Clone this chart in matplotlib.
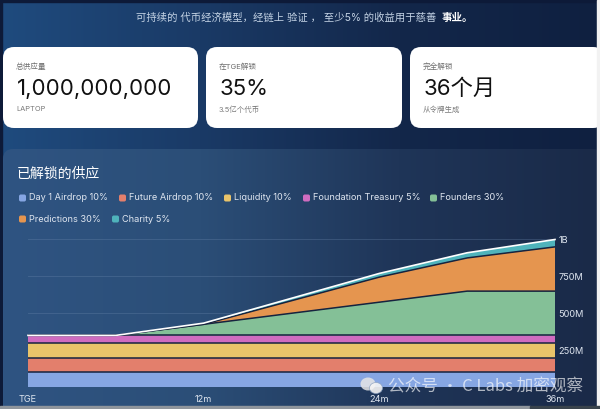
import numpy as np
import matplotlib
matplotlib.use('Agg')
import matplotlib.pyplot as plt
from matplotlib.colors import LinearSegmentedColormap
from matplotlib.patches import FancyBboxPatch, Rectangle, Ellipse

plt.rcParams['font.family'] = ['Inter', 'Noto Sans CJK SC', 'DejaVu Sans']

# months on the x axis
months = [0, 6, 12, 24, 30, 36]
day1 = [100, 100, 100, 100, 100, 100]
future = [100, 100, 100, 100, 100, 100]
liquidity = [100, 100, 100, 100, 100, 100]
foundation = [50, 50, 50, 50, 50, 50]
founders = [0, 0, 75, 225, 300, 300]
predictions = [0, 0, 0, 170, 225, 300]
charity = [0, 0, 8, 25, 35, 50]

names = ['Day 1 Airdrop 10%', 'Future Airdrop 10%', 'Liquidity 10%', 'Foundation Treasury 5%',
         'Founders 30%', 'Predictions 30%', 'Charity 5%']
colors = ['#86a6e3', '#e37f6c', '#e9c46a', '#cf6cc0', '#84c097', '#e5954f', '#4fb3bb']
xtick_vals = [0, 12, 24, 36]
xtick_labels = ['TGE', '12m', '24m', '36m']
ytick_vals = [250, 500, 750, 1000]
ytick_labels = ['250M', '500M', '750M', '1B']

W, H = 600, 409
fig = plt.figure(figsize=(W / 100, H / 100), dpi=100)

# background layer, in pixel coordinates
bg = fig.add_axes([0, 0, 1, 1])
bg.axis('off')
grad = np.linspace(0, 1, 256).reshape(1, -1)
page_cmap = LinearSegmentedColormap.from_list('page', ['#1f4b7e', '#1a3a66', '#13274a', '#0f2040'])
panel_cmap = LinearSegmentedColormap.from_list('panel', ['#2f5482', '#2b4e77', '#1f3558', '#1a2a48'])
bg.imshow(grad, extent=[0, W, H, 0], cmap=page_cmap, aspect='auto')

bg.add_patch(Rectangle((0, 0), 2, H, color='#0d1a38', zorder=1))
bg.add_patch(Rectangle((0, 0), W, 2, color='#0d1a38', zorder=1))
bg.add_patch(Rectangle((597, 0), 3, H, color='#f2f2f2', zorder=6))

# chart panel with rounded corners
im = bg.imshow(grad, extent=[3, 597, H, 149], cmap=panel_cmap, aspect='auto', zorder=2)
panel = FancyBboxPatch((3, 149), 600, 270, boxstyle='round,pad=0,rounding_size=10',
                       fc='none', ec='none', transform=bg.transData)
bg.add_patch(panel)
im.set_clip_path(panel)
bg.set_xlim(0, W)
bg.set_ylim(H, 0)

# bottom strip of the screenshot
bg.add_patch(Rectangle((0, 406), 530, 3, color='#8f959c', zorder=6))
bg.add_patch(Rectangle((530, 406), 70, 3, color='#39434c', zorder=6))

bg.text(136, 18, '可持续的 代币经济模型，经链上 验证 ， 至少5% 的收益用于慈善', color='#c3d2e4', fontsize=7.45,
        ha='left', va='center', zorder=5)
bg.text(442, 18, '事业。', color='white', fontsize=7.6, fontweight='bold', ha='left', va='center', zorder=5)

# stat cards: x0, x1, small label, big value, sub label
cards = [(3, 198, '总供应量', '1,000,000,000', 'LAPTOP'),
         (206, 402, '在TGE解锁', '35%', '3.5亿个代币'),
         (410, 604, '完全解锁', '36个月', '从令牌生成')]
for x0, x1, small, big, sub in cards:
    bg.add_patch(FancyBboxPatch((x0, 47), x1 - x0, 81, boxstyle='round,pad=0,rounding_size=11',
                                fc='white', ec='none', zorder=4))
    tx = x0 + 13
    bg.text(tx, 66, small, color='#6e6e6e', fontsize=5.5, va='center', zorder=5)
    bg.text(tx + 0.5, 89, big, color='#111111', fontsize=16, va='center', zorder=5)
    bg.text(tx, 109, sub, color='#7a7a7a', fontsize=5.4, va='center', zorder=5)

bg.text(17, 174, '已解锁的供应', color='white', fontsize=10, va='center', zorder=5)

# legend chips, placed by hand to follow the two rows
legend_pos = [(19, 198), (119, 198), (224, 198), (303, 198), (430, 198), (19, 219), (112, 219)]
for name, col, (lx, ly) in zip(names, colors, legend_pos):
    bg.add_patch(FancyBboxPatch((lx, ly - 3.5), 7, 7, boxstyle='round,pad=0,rounding_size=1.8',
                                fc=col, ec='none', zorder=5))
    bg.text(lx + 10, ly, name, color='#dfe6f0', fontsize=6.6, va='center', zorder=5)

# the stacked area chart, on real axes
left, right, base, top = 28, 555, 387, 239.5
ax = fig.add_axes([left / W, 1 - base / H, (right - left) / W, (base - top) / H])
ax.patch.set_alpha(0)
series = [day1, future, liquidity, foundation, founders, predictions, charity]
ax.stackplot(months, series, colors=colors, linewidth=0, zorder=3)
ax.set_xlim(0, 36)
ax.set_ylim(0, 1000)
for s in ax.spines.values():
    s.set_visible(False)
ax.yaxis.tick_right()
ax.set_yticks(ytick_vals, ytick_labels, color='#dfe6f0', fontsize=6.6)
ax.set_xticks(xtick_vals, xtick_labels, color='#dfe6f0', fontsize=6.6)
ax.tick_params(axis='x', length=0, pad=6)
ax.tick_params(axis='y', length=0, pad=2.5)
ax.grid(axis='y', color='#6f8bb0', alpha=0.3, linewidth=0.7, zorder=1)
ax.set_axisbelow(True)

# dark line along the top of each band, white along the top of the stack
stacked = np.cumsum(series, axis=0)
for line in stacked[:-1]:
    ax.plot(months, line, color='#16233f', linewidth=1.1, zorder=4)
ax.plot(months, stacked[-1], color='white', linewidth=1.2, zorder=5, clip_on=False)

# watermark
wm = fig.add_axes([0, 0, 1, 1])
wm.set_xlim(0, W)
wm.set_ylim(H, 0)
wm.axis('off')
wm.add_patch(Ellipse((368, 384), 15, 13, fc='#e6e6e6', alpha=0.85, ec='none'))
wm.add_patch(Ellipse((376, 388), 13, 11, fc='#f4f4f4', alpha=0.9, ec='#8aa0c0', lw=0.5))
wm.text(388, 387, '公众号 · C Labs 加密观察', color='white', alpha=0.65, fontsize=12,
        family=['Noto Sans CJK SC', 'DejaVu Sans'], va='center')

fig.savefig('out.png', dpi=100)
